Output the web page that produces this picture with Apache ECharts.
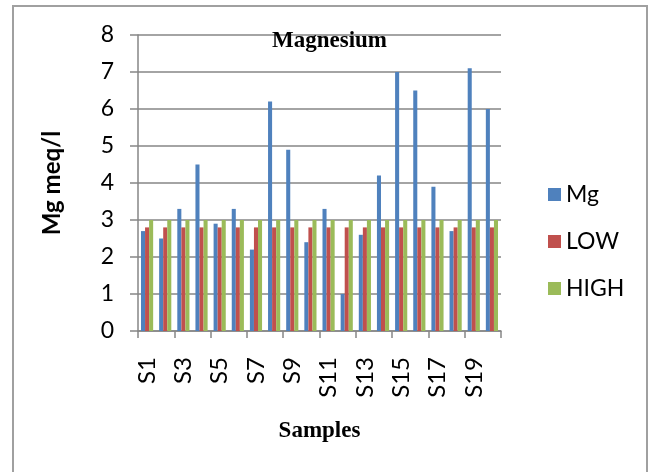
<!DOCTYPE html>
<html>
<head>
<meta charset="utf-8">
<script src="https://cdn.jsdelivr.net/npm/echarts@6/dist/echarts.min.js"></script>
<style>
  html, body { margin: 0; padding: 0; background: #fff; }
  #chart { width: 651px; height: 472px; }
</style>
</head>
<body>
<div id="chart"></div>
<script>
var samples = ["S1","S2","S3","S4","S5","S6","S7","S8","S9","S10","S11","S12","S13","S14","S15","S16","S17","S18","S19","S20"];
var mgValues = [2.7, 2.5, 3.3, 4.5, 2.9, 3.3, 2.2, 6.2, 4.9, 2.4, 3.3, 1.0, 2.6, 4.2, 7.0, 6.5, 3.9, 2.7, 7.1, 6.0];
var lowValues = [2.8, 2.8, 2.8, 2.8, 2.8, 2.8, 2.8, 2.8, 2.8, 2.8, 2.8, 2.8, 2.8, 2.8, 2.8, 2.8, 2.8, 2.8, 2.8, 2.8];
var highValues = [3, 3, 3, 3, 3, 3, 3, 3, 3, 3, 3, 3, 3, 3, 3, 3, 3, 3, 3, 3];

var chartDom = document.getElementById("chart");
var myChart = echarts.init(chartDom);
var option;
option = {
  animation: false,
  backgroundColor: "#fff",
  graphic: [
    {
      type: "rect",
      shape: { x: 13, y: 6, width: 634, height: 480 },
      style: { fill: "none", stroke: "#a0a0a0", lineWidth: 2 }
    }
  ],
  title: {
    text: "Magnesium",
    left: 272,
    top: 30,
    padding: 0,
    textStyle: {
      fontFamily: "Liberation Serif",
      fontWeight: "bold",
      fontSize: 23,
      color: "#000"
    }
  },
  legend: {
    orient: "vertical",
    left: 543,
    top: 178,
    itemWidth: 13,
    itemHeight: 13,
    itemGap: 24,
    icon: "rect",
    textStyle: { fontFamily: "Lato", fontSize: 23, color: "#000" },
    data: ["Mg", "LOW", "HIGH"]
  },
  grid: {
    left: 138,
    right: 150,
    top: 35,
    bottom: 141
  },
  xAxis: {
    type: "category",
    data: samples,
    name: "Samples",
    nameLocation: "middle",
    nameGap: 89,
    nameTextStyle: {
      fontFamily: "Liberation Serif",
      fontWeight: "bold",
      fontSize: 23,
      color: "#000"
    },
    axisLine: { lineStyle: { color: "#868686", width: 1.5 } },
    axisTick: { show: true, length: 7, lineStyle: { color: "#868686", width: 1.5 } },
    axisLabel: {
      interval: 1,
      rotate: 90,
      margin: 26,
      fontFamily: "Lato",
      fontSize: 24,
      color: "#000"
    }
  },
  yAxis: {
    type: "value",
    min: 0,
    max: 8,
    interval: 1,
    name: "Mg meq/l",
    nameLocation: "middle",
    nameGap: 74,
    nameTextStyle: {
      fontFamily: "Lato",
      fontWeight: "bold",
      fontSize: 24,
      color: "#000"
    },
    axisLine: { show: true, lineStyle: { color: "#868686", width: 1.5 } },
    axisTick: { show: true, length: 8, lineStyle: { color: "#868686", width: 1.5 } },
    axisLabel: { margin: 24, fontFamily: "Lato", fontSize: 23, color: "#000" },
    splitLine: { lineStyle: { color: "#868686", width: 1.5 } }
  },
  series: [
    {
      name: "Mg",
      type: "bar",
      data: mgValues,
      barGap: "0%",
      barCategoryGap: "33%",
      itemStyle: { color: "#4F81BD" }
    },
    {
      name: "LOW",
      type: "bar",
      data: lowValues,
      itemStyle: { color: "#C0504D" }
    },
    {
      name: "HIGH",
      type: "bar",
      data: highValues,
      itemStyle: { color: "#9BBB59" }
    }
  ]
};
option && myChart.setOption(option);
</script>
</body>
</html>
